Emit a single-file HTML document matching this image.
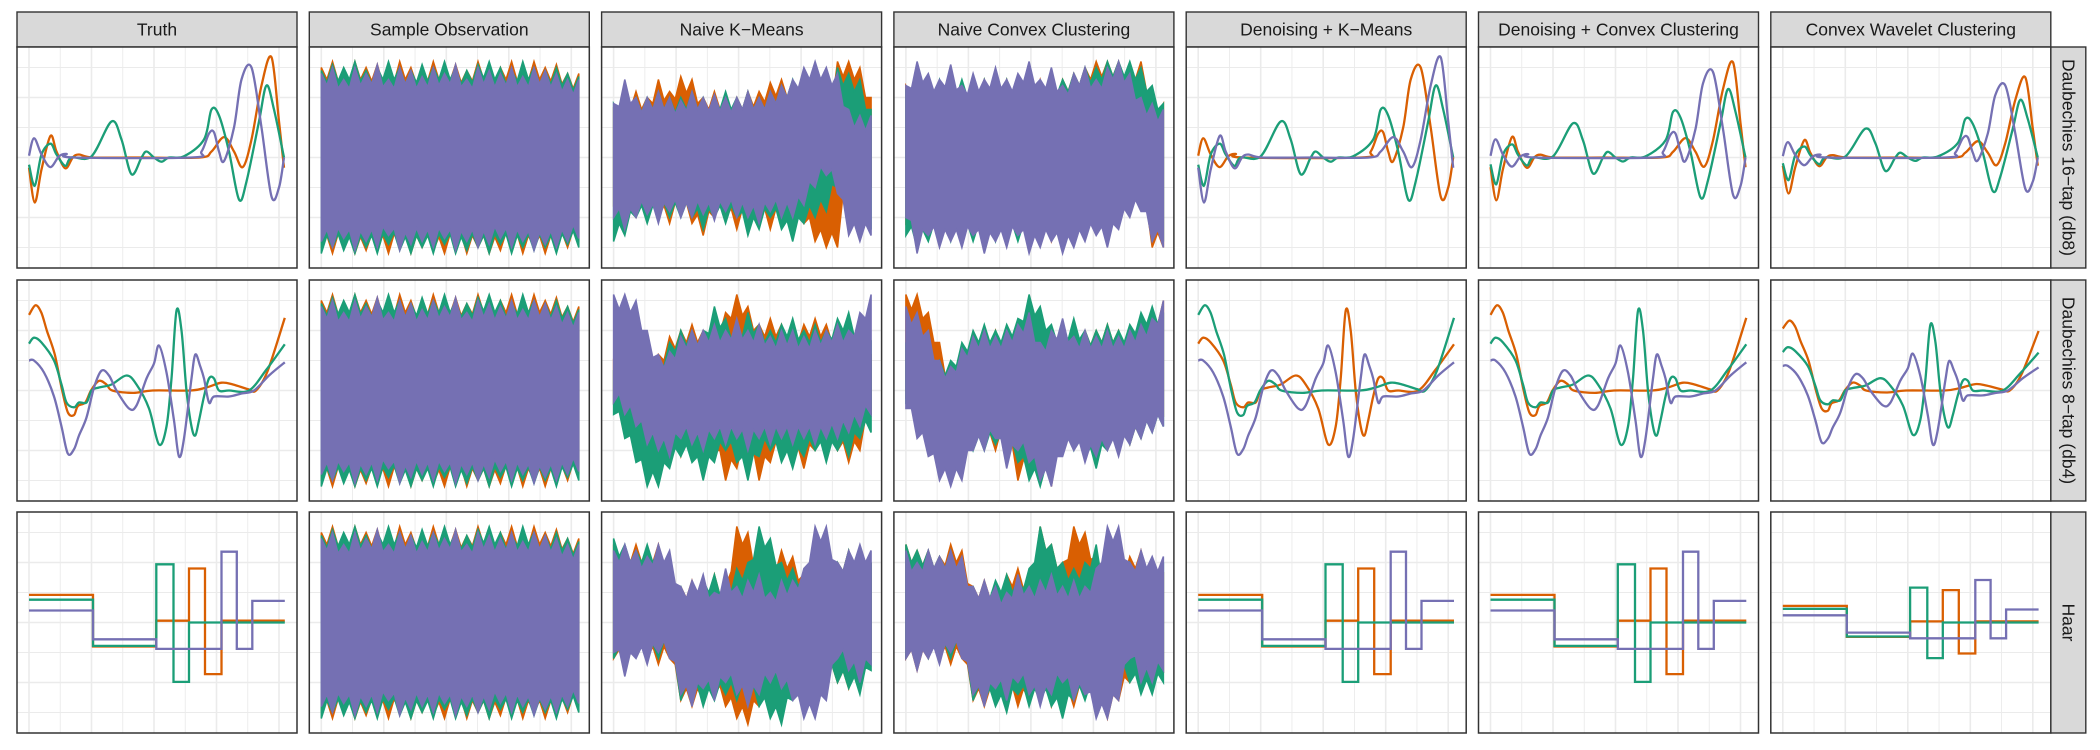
<!DOCTYPE html>
<html><head><meta charset="utf-8">
<style>
html,body{margin:0;padding:0;background:#fff;}
svg{display:block;font-family:"Liberation Sans",Arial,sans-serif;}
</style></head>
<body>
<svg id="chart" width="2100" height="750" viewBox="0 0 2100 750" xmlns="http://www.w3.org/2000/svg"></svg>
<script>
// ---- facet labels ----
const colLabels = ["Truth","Sample Observation","Naive K\u2212Means","Naive Convex Clustering","Denoising + K\u2212Means","Denoising + Convex Clustering","Convex Wavelet Clustering"];
const rowLabels = ["Daubechies 16\u2212tap (db8)","Daubechies 8\u2212tap (db4)","Haar"];
const seriesColors = ["#D95F02","#1B9E77","#7570B3"]; // orange, green, purple
const xTicks = [0,0.125,0.25,0.375,0.5,0.625,0.75,0.875,1];
const yTicks = [-1.5,-1,-0.5,0,0.5,1,1.5];

// ---- truth curves (x, value) ----
const db8Orange = [[0,-0.17],[0.023,-0.75],[0.05,-0.2],[0.086,0.36],[0.11,0.1],[0.145,-0.18],[0.175,0],[0.2,0.05],[0.255,0],[0.45,0],[0.684,0],[0.73,0.1],[0.78,0.34],[0.82,0.1],[0.855,-0.16],[0.89,0.3],[0.93,1.2],[0.97,1.67],[1.0,0.6],[1.02,-0.17]];
const db8Green = [[0,-0.12],[0.023,-0.47],[0.05,0.05],[0.086,0.23],[0.11,0.05],[0.145,-0.14],[0.17,0],[0.25,0.02],[0.33,0.6],[0.37,0.3],[0.41,-0.28],[0.45,0],[0.47,0.1],[0.5,0],[0.53,-0.07],[0.56,0],[0.62,0.02],[0.7,0.3],[0.73,0.8],[0.76,0.7],[0.8,0.1],[0.84,-0.7],[0.87,-0.4],[0.92,0.6],[0.95,1.2],[0.98,0.8],[1.02,0]];
const db8Purple = [[0,0.03],[0.02,0.32],[0.05,0.05],[0.085,-0.16],[0.12,0.02],[0.15,0.06],[0.18,0],[0.65,0],[0.69,0.1],[0.72,0.4],[0.74,0.42],[0.76,0.1],[0.78,-0.06],[0.82,0.5],[0.85,1.3],[0.89,1.5],[0.93,0.5],[0.97,-0.65],[1.0,-0.5],[1.02,0]];
const db4Orange = [[0,1.26],[0.026,1.42],[0.049,1.3],[0.072,0.99],[0.103,0.6],[0.133,-0.01],[0.156,-0.37],[0.18,-0.41],[0.195,-0.26],[0.225,-0.2],[0.248,0],[0.279,0.16],[0.31,0.1],[0.333,0],[0.417,-0.04],[0.494,0],[0.647,0],[0.709,0.05],[0.77,0.13],[0.816,0.1],[0.877,0.02],[0.908,0],[0.954,0.32],[1.023,1.21]];
const db4Green = [[0,0.78],[0.02,0.88],[0.05,0.8],[0.1,0.5],[0.13,0.1],[0.15,-0.2],[0.18,-0.28],[0.2,-0.2],[0.23,-0.2],[0.25,0],[0.28,0.05],[0.33,0.1],[0.39,0.25],[0.43,0.1],[0.48,-0.3],[0.52,-0.9],[0.55,-0.6],[0.57,0.2],[0.59,1.33],[0.61,1.0],[0.63,0],[0.65,-0.6],[0.665,-0.75],[0.68,-0.5],[0.7,-0.1],[0.72,0.2],[0.74,0.2],[0.76,0],[0.8,0],[0.88,0],[0.95,0.35],[1.023,0.77]];
const db4Purple = [[0,0.5],[0.02,0.5],[0.06,0.3],[0.1,-0.1],[0.13,-0.6],[0.155,-1.05],[0.18,-0.98],[0.2,-0.75],[0.23,-0.45],[0.26,0.05],[0.29,0.33],[0.32,0.25],[0.35,0],[0.4,-0.3],[0.43,-0.25],[0.47,0.2],[0.5,0.45],[0.52,0.75],[0.55,0.3],[0.58,-0.5],[0.6,-1.1],[0.62,-0.8],[0.65,0.2],[0.665,0.6],[0.685,0.4],[0.7,0.2],[0.72,-0.2],[0.74,-0.1],[0.8,-0.1],[0.85,-0.05],[0.9,0],[0.96,0.25],[1.023,0.47]];
// Haar step functions
const haarOrangeBreaks = [0,0.256,0.509,0.64,0.704,0.77,1.023];
const haarOrangeLevels = [0.46,-0.4,0.03,0.9,-0.86,0.03];
const haarGreenBreaks = [0,0.256,0.509,0.578,0.64,1.023];
const haarGreenLevels = [0.38,-0.39,0.97,-0.99,0];
const haarPurpleBreaks = [0,0.256,0.509,0.77,0.831,0.893,1.023];
const haarPurpleLevels = [0.2,-0.28,-0.44,1.18,-0.44,0.36];

// ---- noisy panels: upper / lower envelopes ----
const obsOrangeHi = [1.5,1.6,1.45,1.6,1.5,1.55,1.4,1.6,1.5,1.45,1.6,1.5,1.55,1.45,1.6,1.5,1.5,1.6,1.45,1.6,1.5,1.55,1.4,1.4];
const obsOrangeLo = [-1.5,-1.6,-1.45,-1.6,-1.55,-1.5,-1.6,-1.45,-1.6,-1.5,-1.55,-1.6,-1.45,-1.6,-1.5,-1.6,-1.55,-1.45,-1.6,-1.5,-1.6,-1.5,-1.5,-1.4];
const obsGreenHi = [1.45,1.55,1.5,1.6,1.45,1.5,1.6,1.5,1.45,1.55,1.5,1.6,1.5,1.45,1.55,1.6,1.5,1.45,1.6,1.5,1.45,1.5,1.4,1.35];
const obsGreenLo = [-1.6,-1.5,-1.55,-1.6,-1.5,-1.6,-1.45,-1.55,-1.6,-1.5,-1.6,-1.45,-1.6,-1.55,-1.5,-1.6,-1.45,-1.6,-1.5,-1.55,-1.5,-1.6,-1.45,-1.5];
const obsPurpleHi = [1.4,1.5,1.3,1.5,1.4,1.55,1.3,1.5,1.45,1.35,1.5,1.4,1.55,1.3,1.5,1.45,1.4,1.5,1.35,1.5,1.45,1.4,1.3,1.3];
const obsPurpleLo = [-1.4,-1.5,-1.35,-1.55,-1.4,-1.5,-1.3,-1.55,-1.45,-1.4,-1.5,-1.35,-1.55,-1.4,-1.5,-1.45,-1.35,-1.5,-1.4,-1.55,-1.45,-1.5,-1.4,-1.35];

const km1OrangeHi = [0.8,1.0,1.1,1.0,1.3,1.1,1.35,1.3,1.0,1.1,1.0,1.0,1.1,1.1,1.25,1.3,1.2,1.1,0.8,0.6,1.6,1.6,1.5,1.0];
const km1OrangeLo = [-0.8,-1.2,-1.0,-0.9,-1.0,-1.1,-0.9,-1.1,-1.3,-1.0,-1.0,-1.2,-1.0,-1.0,-1.2,-1.0,-1.0,-1.1,-1.4,-1.5,-1.5,-0.2,-0.3,-0.5];
const km1GreenHi = [0.9,1.1,1.0,1.0,1.1,1.0,1.0,1.1,1.0,1.0,1.1,1.0,1.1,1.0,1.1,1.2,1.3,1.2,0.7,0.8,1.5,1.4,1.3,0.8];
const km1GreenLo = [-1.4,-1.3,-1.0,-1.1,-1.0,-1.0,-1.0,-1.0,-1.2,-1.0,-1.1,-1.0,-1.3,-1.2,-1.0,-1.2,-1.4,-1.1,-1.0,-0.9,-0.5,-1.2,-1.3,-1.2];
const km1PurpleHi = [0.9,1.3,1.0,1.0,1.1,1.0,0.95,1.1,1.0,1.05,1.0,1.0,1.1,1.0,1.1,1.2,1.3,1.5,1.6,1.5,1.4,0.8,0.7,0.7];
const km1PurpleLo = [-1.0,-1.2,-1.0,-0.95,-1.1,-0.9,-1.0,-1.0,-0.95,-1.05,-0.9,-1.0,-1.0,-1.1,-0.9,-1.0,-1.0,-0.8,-0.5,-0.3,-0.6,-1.3,-1.4,-1.3];

const cc1OrangeHi = [1.2,1.4,1.3,1.2,1.3,1.2,1.3,1.3,1.2,1.3,1.3,1.2,1.3,1.2,1.3,1.4,1.5,1.6,1.6,1.6,1.5,1.6,1.1,0.9];
const cc1OrangeLo = [-1.1,-1.4,-1.3,-1.4,-1.3,-1.4,-1.3,-1.4,-1.3,-1.4,-1.3,-1.4,-1.3,-1.4,-1.4,-1.3,-1.2,-1.1,-1.2,-1.0,-0.8,-0.6,-1.5,-1.5];
const cc1GreenHi = [1.1,1.3,1.2,1.3,1.2,1.3,1.2,1.3,1.2,1.3,1.2,1.3,1.2,1.3,1.3,1.4,1.5,1.5,1.6,1.6,1.6,1.5,1.2,0.9];
const cc1GreenLo = [-1.3,-1.5,-1.4,-1.3,-1.4,-1.3,-1.4,-1.3,-1.4,-1.3,-1.4,-1.3,-1.4,-1.3,-1.3,-1.2,-1.1,-1.0,-0.9,-0.7,-0.5,-0.6,-1.4,-1.4];
const cc1PurpleHi = [1.2,1.6,1.4,1.3,1.55,1.2,1.4,1.3,1.5,1.3,1.4,1.6,1.3,1.5,1.2,1.4,1.5,1.3,1.5,1.6,1.4,1.0,0.9,0.8];
const cc1PurpleLo = [-1.0,-1.6,-1.3,-1.5,-1.4,-1.5,-1.3,-1.6,-1.4,-1.5,-1.3,-1.6,-1.5,-1.4,-1.6,-1.5,-1.4,-1.3,-1.5,-1.2,-1.0,-0.9,-1.4,-1.5];

const km2OrangeHi = [0.5,0.8,0.6,0.2,0.6,0.9,1.0,1.1,1.0,1.1,1.3,1.6,1.4,1.1,1.2,1.1,1.0,1.1,1.2,1.1,1.0,1.1,1.2,0.6];
const km2OrangeLo = [-0.2,-0.5,-0.9,-1.3,-1.2,-1.0,-1.1,-1.0,-1.3,-1.0,-1.5,-1.3,-1.0,-1.5,-1.2,-1.0,-1.1,-1.3,-1.0,-1.1,-1.0,-1.2,-1.0,-0.4];
const km2GreenHi = [0.3,0.5,0.4,0.2,0.5,0.8,1.0,1.0,1.0,1.4,1.2,1.0,1.3,1.1,1.0,1.1,1.2,1.0,1.1,1.0,1.2,1.3,1.0,0.8];
const km2GreenLo = [-0.4,-0.8,-1.2,-1.6,-1.6,-1.3,-1.1,-1.2,-1.5,-1.2,-1.0,-1.2,-1.5,-1.1,-1.0,-1.2,-1.3,-1.1,-1.0,-1.2,-1.0,-1.1,-0.8,-0.7];
const km2PurpleHi = [1.6,1.6,1.5,1.0,0.6,0.65,0.9,1.0,1.0,1.1,1.0,1.2,1.0,1.1,0.9,1.0,1.0,0.9,1.0,1.0,1.1,1.0,1.3,1.6];
const km2PurpleLo = [-0.2,-0.4,-0.6,-0.9,-1.0,-1.1,-0.8,-0.9,-1.0,-0.8,-0.9,-0.8,-1.0,-0.8,-0.9,-0.8,-0.9,-0.8,-0.9,-0.8,-0.8,-0.7,-0.6,-0.4];

const cc2OrangeHi = [1.6,1.6,1.3,0.8,0.2,0.7,0.9,1.0,1.0,0.9,1.0,1.1,1.2,1.0,1.0,1.1,1.0,1.0,1.1,1.0,0.9,1.1,1.2,1.5];
const cc2OrangeLo = [-0.1,-0.3,-0.5,-0.3,-0.8,-0.9,-0.8,-0.9,-1.0,-0.8,-1.5,-1.3,-0.8,-1.6,-0.9,-0.9,-1.0,-0.8,-0.9,-0.8,-0.9,-0.8,-0.6,-0.4];
const cc2GreenHi = [0.8,0.9,0.7,0.5,0.5,0.8,1.0,1.1,1.0,1.1,1.2,1.6,1.4,1.1,1.0,1.2,1.0,1.0,1.1,1.0,1.1,1.3,1.4,1.3];
const cc2GreenLo = [-0.2,-0.5,-0.7,-1.0,-1.0,-0.9,-1.0,-1.0,-0.9,-1.0,-1.2,-1.5,-1.6,-1.4,-1.0,-1.0,-1.1,-1.3,-1.0,-1.0,-0.9,-0.8,-0.7,-0.6];
const cc2PurpleHi = [1.4,1.3,1.0,0.5,0.4,0.7,0.9,1.0,0.9,1.0,1.1,1.3,0.8,1.0,1.2,0.9,1.0,0.9,1.0,0.9,1.0,1.1,1.2,1.5];
const cc2PurpleLo = [-0.3,-0.8,-1.1,-1.5,-1.6,-1.5,-1.0,-1.0,-0.8,-1.3,-1.0,-1.2,-1.5,-1.6,-1.1,-1.0,-1.2,-1.1,-1.0,-1.1,-0.9,-0.8,-0.7,-0.6];

const km3OrangeHi = [1.3,1.2,1.3,1.2,1.3,1.1,0.6,0.7,0.6,0.8,0.6,1.6,1.5,0.9,1.0,1.2,1.1,0.8,0.5,0.8,1.0,1.2,1.1,1.0];
const km3OrangeLo = [-0.6,-0.8,-0.5,-0.6,-0.7,-0.6,-1.3,-1.4,-1.3,-1.2,-1.4,-1.6,-1.7,-1.4,-1.2,-1.3,-1.2,-1.0,-0.6,-0.9,-1.0,-1.1,-0.9,-0.6];
const km3GreenHi = [1.4,1.3,1.2,1.3,1.2,1.0,0.6,0.6,0.7,0.8,0.6,0.9,1.0,1.6,1.4,1.0,0.9,0.8,0.5,0.6,1.0,1.2,1.0,1.0];
const km3GreenLo = [-0.6,-0.7,-0.5,-0.6,-0.6,-0.5,-1.3,-1.2,-1.4,-1.3,-1.2,-1.3,-1.2,-1.4,-1.6,-1.7,-1.3,-1.0,-0.8,-0.9,-1.0,-1.1,-1.2,-0.8];
const km3PurpleHi = [1.2,1.3,1.2,1.1,1.3,1.2,0.6,0.7,0.8,0.5,0.9,0.6,0.7,0.8,0.5,0.7,0.7,0.9,1.6,1.6,1.0,1.2,1.3,1.2];
const km3PurpleLo = [-0.5,-0.9,-0.6,-0.7,-0.5,-0.6,-1.2,-1.4,-1.1,-1.3,-1.0,-1.2,-1.4,-1.2,-1.0,-1.1,-1.3,-1.6,-1.6,-1.3,-0.6,-0.8,-1.0,-0.7];

const cc3OrangeHi = [1.3,1.2,1.2,1.1,1.3,1.2,0.6,0.7,0.6,0.8,0.9,0.7,1.6,1.3,1.0,1.6,1.5,1.1,0.5,0.9,1.1,1.2,1.0,0.8];
const cc3OrangeLo = [-0.6,-0.8,-0.6,-0.6,-0.7,-0.6,-1.3,-1.4,-1.3,-1.2,-1.4,-1.3,-1.2,-1.4,-1.3,-1.4,-1.2,-1.5,-1.6,-1.3,-1.0,-1.1,-1.0,-0.8];
const cc3GreenHi = [1.3,1.2,1.2,1.1,1.2,1.0,0.6,0.6,0.7,0.8,0.7,0.9,1.6,1.3,1.0,0.9,1.0,1.3,0.6,0.7,1.0,1.1,1.0,1.0];
const cc3GreenLo = [-0.6,-0.7,-0.6,-0.6,-0.6,-0.5,-1.3,-1.3,-1.4,-1.5,-1.2,-1.4,-1.3,-1.4,-1.6,-1.3,-1.3,-1.2,-1.0,-0.9,-1.0,-1.2,-1.2,-1.0];
const cc3PurpleHi = [1.2,1.0,1.2,1.1,1.2,1.1,0.6,0.7,0.6,0.5,0.8,0.6,0.7,0.8,0.6,0.7,0.6,0.9,1.6,1.6,1.0,1.2,1.1,1.1];
const cc3PurpleLo = [-0.6,-0.8,-0.6,-0.7,-0.5,-0.6,-1.2,-1.4,-1.1,-1.3,-1.0,-1.2,-1.4,-1.2,-1.0,-1.3,-1.2,-1.6,-1.6,-1.3,-0.6,-1.0,-1.0,-0.8];

// amplitude factors for estimated panels (rows: db8, db4, haar)
const denoiseKmScale = [1.0,1.0,1.0];
const denoiseCcScale = [0.95,1.0,1.0];
const waveletScale = [0.8,0.82,0.6];

// ---- layout ----
const svg = document.getElementById('chart');
const NS = 'http://www.w3.org/2000/svg';
const panelLeft0 = 17, panelPitch = 292.3, panelW = 280;
const rowTops = [47, 280, 512], panelH = 221;
const stripTop = 12;

function mk(tag, attrs, parent){
  const e = document.createElementNS(NS, tag);
  for (const k in attrs) e.setAttribute(k, attrs[k]);
  parent.appendChild(e);
  return e;
}
function xScale(p, x){ return p.x + 12 + x * 250; }
function yScale(p, v){ return p.y + panelH/2 - v * 60; }

function smoothPath(pts){
  let d = 'M' + pts[0][0].toFixed(1) + ',' + pts[0][1].toFixed(1);
  for (let i = 0; i < pts.length - 1; i++){
    const p0 = pts[Math.max(0,i-1)], p1 = pts[i], p2 = pts[i+1], p3 = pts[Math.min(pts.length-1,i+2)];
    const c1x = p1[0] + (p2[0]-p0[0])/6, c1y = p1[1] + (p2[1]-p0[1])/6;
    const c2x = p2[0] - (p3[0]-p1[0])/6, c2y = p2[1] - (p3[1]-p1[1])/6;
    d += 'C' + c1x.toFixed(1)+','+c1y.toFixed(1)+' '+c2x.toFixed(1)+','+c2y.toFixed(1)+' '+p2[0].toFixed(1)+','+p2[1].toFixed(1);
  }
  return d;
}
function drawSmooth(g, p, data, color, scale, name){
  const pts = data.map(d => [xScale(p, d[0]), yScale(p, d[1]*scale)]);
  const el = mk('path', {d: smoothPath(pts), fill:'none', stroke: color, 'stroke-width': 2.3, 'stroke-linejoin':'round'}, g);
  
  
}
function drawStep(g, p, breaks, levels, color, scale, name){
  let d = '';
  for (let i = 0; i < levels.length; i++){
    const y = yScale(p, levels[i]*scale);
    d += (i === 0 ? 'M' : 'L') + xScale(p, breaks[i]).toFixed(1) + ',' + y.toFixed(1);
    d += 'L' + xScale(p, breaks[i+1]).toFixed(1) + ',' + y.toFixed(1);
  }
  const el = mk('path', {d: d, fill:'none', stroke: color, 'stroke-width': 2.3}, g);
  
  
}
function drawBand(g, p, hi, lo, color, name){
  const n = hi.length;
  const xAt = i => 0 + i * 1.03 / (n - 1);
  let d = '';
  for (let i = 0; i < n; i++){
    const x = xScale(p, xAt(i));
    d += (i === 0 ? 'M' : 'L') + x.toFixed(1) + ',' + yScale(p, hi[i]).toFixed(1);
    if (i < n-1){
      const xm = xScale(p, xAt(i) + 0.5*1.03/(n-1));
      d += 'L' + xm.toFixed(1) + ',' + yScale(p, (hi[i]+hi[i+1])/2 - 0.25).toFixed(1);
    }
  }
  for (let i = n-1; i >= 0; i--){
    const x = xScale(p, xAt(i));
    d += 'L' + x.toFixed(1) + ',' + yScale(p, lo[i]).toFixed(1);
    if (i > 0){
      const xm = xScale(p, xAt(i) - 0.5*1.03/(n-1));
      d += 'L' + xm.toFixed(1) + ',' + yScale(p, (lo[i]+lo[i-1])/2 + 0.25).toFixed(1);
    }
  }
  d += 'Z';
  const el = mk('path', {d: d, fill: color, stroke: color, 'stroke-width': 1.5, 'stroke-linejoin':'miter'}, g);
  
  
}

const truthSmooth = [[db8Orange, db8Green, db8Purple],[db4Orange, db4Green, db4Purple]];
const haarSets = [[haarOrangeBreaks, haarOrangeLevels],[haarGreenBreaks, haarGreenLevels],[haarPurpleBreaks, haarPurpleLevels]];
const noisy = {
  1: [[[obsOrangeHi,obsOrangeLo],[obsGreenHi,obsGreenLo],[obsPurpleHi,obsPurpleLo]],
      [[obsOrangeHi,obsOrangeLo],[obsGreenHi,obsGreenLo],[obsPurpleHi,obsPurpleLo]],
      [[obsOrangeHi,obsOrangeLo],[obsGreenHi,obsGreenLo],[obsPurpleHi,obsPurpleLo]]],
  2: [[[km1OrangeHi,km1OrangeLo],[km1GreenHi,km1GreenLo],[km1PurpleHi,km1PurpleLo]],
      [[km2OrangeHi,km2OrangeLo],[km2GreenHi,km2GreenLo],[km2PurpleHi,km2PurpleLo]],
      [[km3OrangeHi,km3OrangeLo],[km3GreenHi,km3GreenLo],[km3PurpleHi,km3PurpleLo]]],
  3: [[[cc1OrangeHi,cc1OrangeLo],[cc1GreenHi,cc1GreenLo],[cc1PurpleHi,cc1PurpleLo]],
      [[cc2OrangeHi,cc2OrangeLo],[cc2GreenHi,cc2GreenLo],[cc2PurpleHi,cc2PurpleLo]],
      [[cc3OrangeHi,cc3OrangeLo],[cc3GreenHi,cc3GreenLo],[cc3PurpleHi,cc3PurpleLo]]]
};
// color permutation for estimated panels: index of truth series drawn in each color
const permKm = [[2,1,0],[1,0,2],[0,1,2]];
const permCc = [[0,1,2],[0,1,2],[0,1,2]];
const permWv = [[0,1,2],[0,1,2],[0,1,2]];
const colorNames = ['orange','green','purple'];

// column strips
for (let c = 0; c < colLabels.length; c++){
  const x = panelLeft0 + c * panelPitch;
  const g = mk('g', {}, svg);
  
  
  mk('rect', {x: x, y: stripTop, width: panelW, height: rowTops[0]-stripTop, fill:'#D9D9D9', stroke:'#333333', 'stroke-width':1.4}, g);
  const t = mk('text', {x: x + panelW/2, y: stripTop + 23.5, 'text-anchor':'middle', 'font-size':17.5, fill:'#1A1A1A'}, g);
  t.textContent = colLabels[c];
  
  
}
// row strips
for (let r = 0; r < rowLabels.length; r++){
  const g = mk('g', {}, svg);
  
  
  const sx = panelLeft0 + 6*panelPitch + panelW;
  mk('rect', {x: sx, y: rowTops[r], width: 35, height: panelH, fill:'#D9D9D9', stroke:'#333333', 'stroke-width':1.4}, g);
  const cx = sx + 17.5, cy = rowTops[r] + panelH/2;
  const t = mk('text', {x: cx, y: cy, 'text-anchor':'middle', 'dominant-baseline':'central', 'font-size':17.5, fill:'#1A1A1A', transform:'rotate(90 '+cx+' '+cy+')'}, g);
  t.textContent = rowLabels[r];
  
  
}

// panels
for (let r = 0; r < 3; r++){
  for (let c = 0; c < 7; c++){
    const p = {x: panelLeft0 + c*panelPitch, y: rowTops[r]};
    const g = mk('g', {}, svg);
    
    
    const clipId = 'clip' + r + '_' + c;
    const cp = mk('clipPath', {id: clipId}, g);
    mk('rect', {x: p.x, y: p.y, width: panelW, height: panelH}, cp);
    mk('rect', {x: p.x, y: p.y, width: panelW, height: panelH, fill:'#FFFFFF'}, g);
    // grid
    for (let i = 0; i < xTicks.length; i++){
      const gx = xScale(p, xTicks[i]);
      const gl = mk('line', {x1: gx, x2: gx, y1: p.y, y2: p.y+panelH, stroke:'#EBEBEB', 'stroke-width': i%2===0 ? 1.6 : 0.9}, g);
      
      
    }
    for (let i = 0; i < yTicks.length; i++){
      const gy = yScale(p, yTicks[i]);
      const gl = mk('line', {x1: p.x, x2: p.x+panelW, y1: gy, y2: gy, stroke:'#EBEBEB', 'stroke-width': Number.isInteger(yTicks[i]) ? 1.6 : 0.9}, g);
      
      
    }
    const dg = mk('g', {'clip-path': 'url(#' + clipId + ')'}, g);
    
    
    if (c === 1 || c === 2 || c === 3){
      const sets = noisy[c][r];
      for (let s = 0; s < 3; s++) drawBand(dg, p, sets[s][0], sets[s][1], seriesColors[s], 'noisy-' + colorNames[s] + '-series');
    } else {
      let perm = [0,1,2], scale = 1;
      if (c === 4){ perm = permKm[r]; scale = denoiseKmScale[r]; }
      if (c === 5){ perm = permCc[r]; scale = denoiseCcScale[r]; }
      if (c === 6){ perm = permWv[r]; scale = waveletScale[r]; }
      for (let s = 0; s < 3; s++){
        const src = perm[s];
        if (r < 2) drawSmooth(dg, p, truthSmooth[r][src], seriesColors[s], scale, colorNames[s] + '-curve');
        else drawStep(dg, p, haarSets[src][0], haarSets[src][1], seriesColors[s], scale, colorNames[s] + '-step-curve');
      }
    }
    const border = mk('rect', {x: p.x, y: p.y, width: panelW, height: panelH, fill:'none', stroke:'#333333', 'stroke-width':1.5}, g);
    
    
  }
}
</script>
</body></html>
